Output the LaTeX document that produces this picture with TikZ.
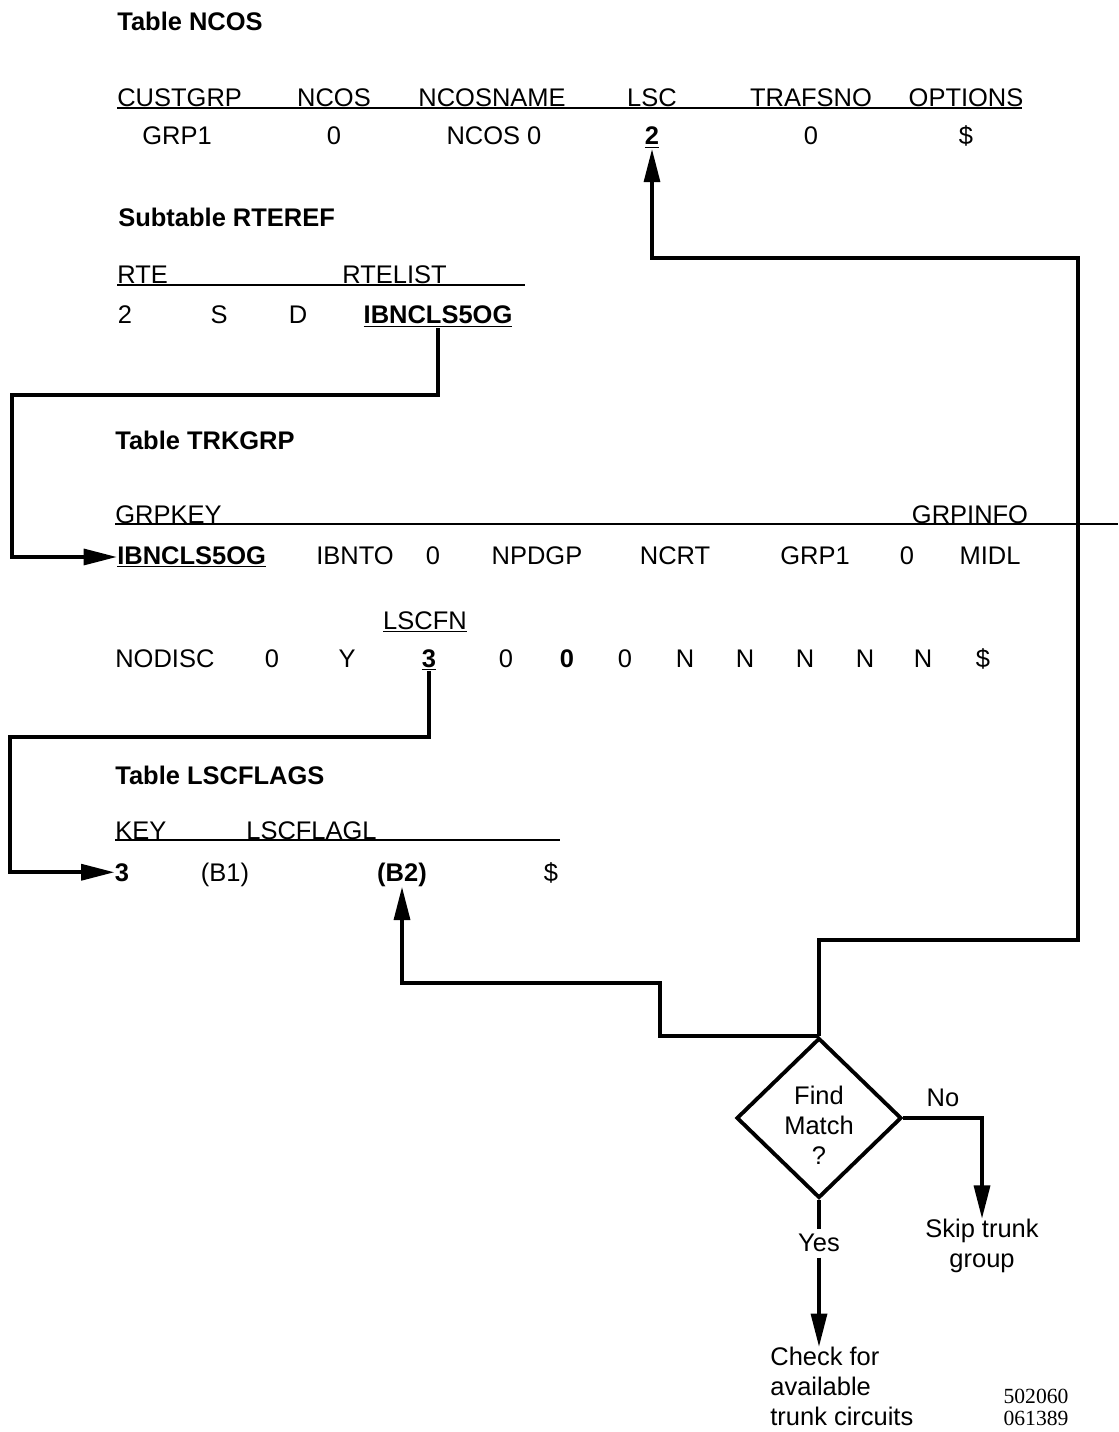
\documentclass[tikz,border=0pt]{standalone}
\usepackage{fontspec}
\setmainfont{Liberation Sans}
\newfontfamily\docnumfont{Liberation Serif}
\usetikzlibrary{arrows.meta, shapes.geometric}

\begin{document}
\begin{tikzpicture}[x=0.02cm, y=-0.02cm,
  every node/.style={inner sep=0pt, font=\fontsize{14.5}{17}\selectfont},
  tabtitle/.style={anchor=base west, font=\fontsize{14.5}{17}\selectfont\bfseries},
  colhead/.style={anchor=base},
  val/.style={anchor=base},
  hrule/.style={line width=1.1pt},
  link/.style={line width=2.2pt, line join=miter,
    -{Triangle[length=19pt, width=9pt]}}]
  \useasboundingbox (0,0) rectangle (1118,1432);

  % Table NCOS
  \node[tabtitle] (tncos) at (117,31) {Table NCOS};
  \draw[hrule] (117,108) -- (1022,108);
  \node[colhead, anchor=base west] (hcust) at (117,107) {CUSTGRP};
  \node[colhead] (hncos) at (334,107) {NCOS};
  \node[colhead] (hname) at (492,107) {NCOSNAME};
  \node[colhead] (hlsc) at (652,107) {LSC};
  \node[colhead] (htrafs) at (811,107) {TRAFSNO};
  \node[colhead] (hopt) at (966,107) {OPTIONS};
  \node[val] (grp) at (177,145) {GRP1};
  \node[val] (ncos) at (334,145) {0};
  \node[val] (ncosname) at (494,145) {NCOS 0};
  \node[val] (lsc) at (652,145) {\underline{\textbf{2}}};
  \node[val] (trafsno) at (811,145) {0};
  \node[val] (opt) at (966,145) {\$};

  % Subtable RTEREF
  \node[tabtitle] (trteref) at (118,227) {Subtable RTEREF};
  \draw[hrule] (117,285) -- (525,285);
  \node[colhead, anchor=base west] (hrte) at (117,284) {RTE};
  \node[colhead, anchor=base west] (hrtelist) at (342,284) {RTELIST};
  \node[val] (rte) at (125,324) {2};
  \node[val] (rtes) at (219,324) {S};
  \node[val] (rted) at (298,324) {D};
  \node[val] (rtelist) at (438,324) {\underline{\textbf{IBNCLS5OG}}};

  % Table TRKGRP
  \node[tabtitle] (ttrkgrp) at (115,449) {Table TRKGRP};
  \draw[hrule] (115,524) -- (1118,524);
  \node[colhead, anchor=base west] (hgrpkey) at (115,523) {GRPKEY};
  \node[colhead] (hgrpinfo) at (970,523) {GRPINFO};
  \node[val, anchor=base west] (keyt) at (117,564) {\underline{\textbf{IBNCLS5OG}}};
  \node[val] (ibnto) at (355,564) {IBNTO};
  \node[val] (zeroa) at (433,564) {0};
  \node[val] (npdgp) at (537,564) {NPDGP};
  \node[val] (ncrt) at (675,564) {NCRT};
  \node[val] (grpb) at (815,564) {GRP1};
  \node[val] (zerob) at (907,564) {0};
  \node[val] (midl) at (990,564) {MIDL};
  \node[colhead] (hlscfn) at (425,629) {\underline{LSCFN}};
  \node[val, anchor=base west] (nodisc) at (115,667) {NODISC};
  \node[val] (zeroc) at (272,667) {0};
  \node[val] (yflag) at (347,667) {Y};
  \node[val] (lscfn) at (429,667) {\underline{\textbf{3}}};
  \node[val] (zerod) at (506,667) {0};
  \node[val] (zeroe) at (567,667) {\textbf{0}};
  \node[val] (zerof) at (625,667) {0};
  \foreach \x in {685,745,805,865,923}
    \node[val] (n\x) at (\x,667) {N};
  \node[val] (dollart) at (983,667) {\$};

  % Table LSCFLAGS
  \node[tabtitle] (tlscflags) at (115,784) {Table LSCFLAGS};
  \draw[hrule] (115,840) -- (560,840);
  \node[colhead, anchor=base west] (hkey) at (115,839) {KEY};
  \node[colhead, anchor=base west] (hlscflagl) at (246,839) {LSCFLAGL};
  \node[val] (keyl) at (122,881) {\textbf{3}};
  \node[val] (bone) at (225,881) {(B1)};
  \node[val] (btwo) at (402,881) {\textbf{(B2)}};
  \node[val] (dollarl) at (551,881) {\$};

  % Decision
  \node[draw, diamond, line width=2.2pt, minimum width=3.3cm, minimum height=3.2cm,
    label={[align=center, yshift=-4pt]center:Find\\Match\\?}] (match) at (819,1118) {};
  \node[anchor=base] (no) at (943,1106) {No};
  \node[inner sep=3pt] (yes) at (819,1243) {Yes};
  \node[align=center] (skip) at (982,1246) {Skip trunk\\group};
  \node[align=left, anchor=north west] (check) at (770,1347)
    {Check for\\available\\trunk circuits};
  \node[align=center, font=\fontsize{12.3}{12.5}\selectfont\docnumfont] (docnum)
    at (1036,1407) {502060\\061389};

  % Connectors
  \draw[link] (rtelist.south) |- (12,395) |- (keyt.west);
  \draw[link] (lscfn.south) |- (10,737) |- (keyl.west);
  \draw[link] (match.north) |- (1078,940) -- (1078,258) -| (lsc.south);
  \draw[link] (match.north) -| (660,983) -| (btwo.south);
  \draw[link] (match.east) -| (skip.north);
  \draw[line width=2.2pt] (match.south) -- (yes.north);
  \draw[link] (yes.south) -- (yes.south |- check.north);
\end{tikzpicture}
\end{document}
